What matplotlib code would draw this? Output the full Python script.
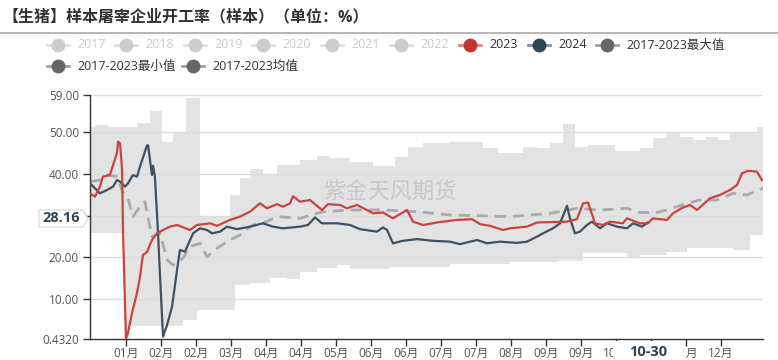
import numpy as np
import matplotlib
matplotlib.use("Agg")
import matplotlib.pyplot as plt
from matplotlib.patches import Polygon
from matplotlib.lines import Line2D

plt.rcParams['font.family'] = ['Open Sans', 'Noto Sans CJK SC', 'DejaVu Sans']

# day-of-year based x values
max_x = [0, 2.7, 9.8, 25.5, 32.5, 39.0, 45.0, 52.1, 59.7, 75.9, 81.3, 86.8, 93.8, 101.4,
         113.9, 123.1, 130.2, 141.0, 153.5, 165.4, 172.5, 180.6, 195.2, 213.1, 221.3,
         234.8, 242.4, 249.5, 256.5, 263.0, 270.1, 284.7, 298.3, 305.3, 312.9, 320.0,
         327.0, 333.5, 340.6, 347.1, 361.7]
max_y = [51.4, 51.8, 51.4, 52.2, 55.2, 47.8, 49.9, 58.3, 29.8, 35.0, 39.1, 41.2, 40.0, 42.2,
         43.4, 44.4, 43.8, 42.8, 42.0, 44.2, 46.6, 47.4, 47.6, 46.2, 45.1,
         46.6, 46.2, 47.4, 52.0, 46.6, 47.0, 45.6, 46.2, 48.6, 50.0, 49.0,
         48.1, 48.8, 48.2, 50.0, 51.2]

min_x = [0, 19.0, 21.0, 50.4, 58.0, 78.6, 86.8, 97.6, 106.8, 113.9, 123.1, 134.0, 141.0,
         162.7, 195.2, 227.8, 238.6, 253.3, 267.4, 291.2, 298.3, 312.9, 323.8, 348.7, 357.9]
min_y = [25.8, 1.0, 3.5, 5.0, 7.4, 13.4, 13.8, 15.0, 14.8, 16.6, 17.4, 18.2, 17.2,
         17.8, 18.4, 18.8, 19.0, 19.2, 21.0, 20.2, 20.6, 21.4, 22.2, 21.8, 25.4]

mean_x = [0, 5.4, 9.2, 14.6, 17.9, 20.6, 23.3, 27.1, 29.8, 33.6, 38.0, 41.8, 45.0, 50.4,
          54.2, 59.7, 63.4, 68.9, 75.9, 81.3, 88.4, 93.8, 101.4, 113.9, 126.4, 141.0,
          158.9, 177.3, 195.2, 213.1, 227.8, 249.5, 264.1, 276.6, 291.2, 298.3, 307.5,
          312.9, 323.8, 330.8, 340.0, 348.7, 356.3, 365.0]
mean_y = [38.2, 38.6, 39.8, 39.4, 35.5, 34.2, 29.8, 32.2, 33.4, 25.0, 25.8, 19.4, 18.2, 19.8,
          22.6, 23.4, 20.2, 22.2, 24.2, 25.4, 27.8, 28.2, 29.8, 29.4, 31.0, 31.4,
          31.4, 31.0, 30.2, 30.0, 29.8, 30.6, 31.8, 31.4, 31.8, 30.8, 30.8,
          31.4, 33.0, 33.8, 33.8, 35.4, 35.0, 36.6]

y2023_x = [0, 2.7, 5.4, 7.0, 10.8, 12.5, 14.6, 15.2, 16.3, 17.4, 17.9, 19.5, 20.6, 22.8,
           25.5, 27.1, 28.7, 30.9, 33.6, 36.3, 39.6, 43.4, 47.2, 54.2, 58.0, 65.1, 68.9,
           75.9, 81.3, 86.8, 92.2, 96.0, 101.4, 104.7, 108.5, 110.1, 113.9, 119.3, 125.8,
           129.1, 135.6, 139.4, 144.8, 150.2, 153.5, 158.9, 164.3, 171.9, 175.2, 180.6,
           188.2, 191.4, 199.0, 207.2, 211.5, 216.9, 224.0, 227.8, 237.0, 242.4, 258.7,
           264.1, 267.4, 270.1, 273.9, 278.2, 282.0, 289.0, 291.2, 298.3, 302.6, 305.3,
           312.9, 316.2, 321.6, 325.4, 329.2, 336.2, 341.6, 347.1, 350.9, 353.6, 356.8,
           361.7, 364.4]
y2023_y = [35.4, 34.6, 37.0, 39.4, 39.8, 42.2, 45.0, 47.8, 47.4, 41.0, 26.6, 0.5, 1.9, 6.7,
           11.5, 15.3, 20.6, 21.3, 24.2, 25.8, 26.6, 27.4, 27.8, 26.6, 27.8, 28.2, 27.6,
           29.0, 29.8, 31.0, 33.0, 31.8, 32.8, 32.2, 33.0, 34.7, 33.4, 33.8, 31.4,
           32.8, 32.6, 31.8, 32.6, 31.4, 30.6, 30.8, 29.4, 31.4, 28.6, 27.8,
           28.4, 28.6, 29.0, 29.2, 28.0, 27.6, 26.6, 27.0, 27.4, 28.4, 28.6,
           29.2, 33.0, 33.2, 28.2, 27.8, 28.6, 28.2, 29.4, 28.2, 28.2, 29.4,
           29.0, 30.6, 32.0, 32.6, 31.4, 34.2, 35.0, 36.2, 37.4, 40.2, 40.8,
           40.6, 38.6]

y2024_x = [0, 5.4, 9.2, 12.5, 14.6, 16.3, 19.0, 20.6, 23.3, 25.5, 27.1, 30.9, 31.5, 33.6,
           34.2, 35.2, 36.9, 38.0, 39.6, 41.8, 44.5, 47.2, 48.8, 51.5, 53.1, 55.9, 59.7,
           63.4, 66.2, 70.5, 74.3, 79.7, 86.8, 93.8, 99.2, 104.7, 113.9, 118.2, 122.0,
           125.8, 134.0, 141.0, 146.4, 155.6, 158.9, 161.1, 164.3, 169.7, 177.3, 186.0,
           195.2, 200.7, 209.9, 215.3, 222.3, 231.6, 237.0, 242.4, 245.7, 251.1, 254.9,
           258.7, 260.3, 263.0, 265.7, 269.5, 272.2, 276.6, 280.4, 285.8, 291.2, 294.5,
           299.3, 302.6]
y2024_y = [37.8, 35.4, 36.2, 37.0, 38.6, 38.2, 37.0, 37.8, 39.8, 39.4, 41.8, 46.9, 46.9, 39.8,
           42.0, 39.4, 25.8, 15.4, 1.0, 3.8, 8.2, 17.0, 21.8, 21.4, 23.0, 25.8, 27.0,
           26.6, 25.8, 26.2, 27.4, 26.8, 27.4, 28.2, 27.4, 27.0, 27.4, 27.8, 29.6,
           28.2, 28.2, 27.8, 26.8, 26.2, 27.2, 26.6, 23.4, 24.0, 24.4, 24.0,
           23.8, 23.2, 24.2, 23.4, 23.8, 23.5, 23.8, 25.0, 25.8, 27.0, 28.2,
           32.4, 29.4, 25.8, 26.2, 27.8, 28.6, 27.0, 28.2, 27.4, 27.0, 28.2,
           27.4, 28.4]

month_labels = ['01月', '02月', '02月', '03月', '04月', '04月', '05月', '06月', '06月',
                '07月', '07月', '08月', '09月', '09月', '10月', '10月', '11月', '12月']
y_ticks = [0.432, 10, 20, 30, 40, 50, 59]
y_tick_labels = ['0.4320', '10.00', '20.00', '30.00', '40.00', '50.00', '59.00']

legend_items = [('2017', '#cccccc', '#cccccc'), ('2018', '#cccccc', '#cccccc'),
                ('2019', '#cccccc', '#cccccc'), ('2020', '#cccccc', '#cccccc'),
                ('2021', '#cccccc', '#cccccc'), ('2022', '#cccccc', '#cccccc'),
                ('2023', '#c23531', '#333333'), ('2024', '#2f4554', '#333333'),
                ('2017-2023最大值', '#666666', '#333333')]
legend_items2 = [('2017-2023最小值', '#666666', '#333333'),
                 ('2017-2023均值', '#666666', '#333333')]


def steps(xs, ys, end):
    px, py = [], []
    for i in range(len(xs)):
        x1 = xs[i + 1] if i + 1 < len(xs) else end
        px += [xs[i], x1]
        py += [ys[i], ys[i]]
    return px, py


W, H = 778, 360
fig = plt.figure(figsize=(W / 100, H / 100), dpi=100)
ax = fig.add_axes([90 / W, 1 - 339 / H, (763 - 90) / W, (339 - 95) / H])

ux, uy = steps(max_x, max_y, 365)
lx, ly = steps(min_x, min_y, 365)
ax.fill(np.r_[ux, lx[::-1]], np.r_[uy, ly[::-1]], color='#e3e3e3', lw=0, zorder=1)

for v in y_ticks[1:]:
    ax.axhline(v, color='#dcdcdc', lw=1, zorder=1.5)

ax.plot(mean_x, mean_y, color='#aaaaaa', lw=2, dashes=(4, 2.5), zorder=2)
ax.plot(y2024_x, y2024_y, color='#3f505e', lw=1.6, zorder=3)
ax.plot(y2023_x, y2023_y, color='#c94341', lw=1.6, zorder=4)

ax.set_xlim(0, 365)
ax.set_ylim(0.432, 59)
ax.set_xticks(19.5 + 18.98 * np.arange(len(month_labels)))
ax.set_xticklabels(month_labels)
ax.set_yticks(y_ticks)
ax.set_yticklabels(y_tick_labels)
ax.tick_params(axis='both', colors='#333333', labelcolor='#555555', labelsize=8.5,
               length=5, width=1)
ax.tick_params(axis='x', pad=1)
ax.tick_params(axis='y', pad=3)
for s in ['top', 'right']:
    ax.spines[s].set_visible(False)
for s in ['left', 'bottom']:
    ax.spines[s].set_color('#333333')
    ax.spines[s].set_linewidth(1)

fig.text(0.501, 1 - 193 / H, '紫金天风期货', fontsize=16, color='#c8c8c8',
         ha='center', va='center', zorder=5)

# title and separator
fig.text(2 / W, 1 - 17 / H, '【生猪】样本屠宰企业开工率（样本）（单位：%）', fontsize=11.5,
         fontweight='bold', color='#333333', va='center', ha='left')
fig.add_artist(Line2D([0, 1], [1 - 33 / H, 1 - 33 / H], color='#aaaaaa', lw=1.2))

# legend
def legend_item(x0, yc, label, icol, tcol):
    yf = 1 - yc / H
    fig.add_artist(Line2D([x0 / W, (x0 + 22) / W], [yf, yf], color=icol, lw=2, alpha=0.6))
    fig.add_artist(Line2D([(x0 + 11) / W], [yf], marker='o', markersize=9, color=icol,
                          lw=0))
    fig.text((x0 + 30) / W, yf, label, fontsize=9, color=tcol, va='center', ha='left')

row1_x = [47, 115, 184, 252, 321, 390, 459, 528, 596]
for xx, (lab, ic, tc) in zip(row1_x, legend_items):
    legend_item(xx, 45, lab, ic, tc)
for xx, (lab, ic, tc) in zip([47, 182], legend_items2):
    legend_item(xx, 66, lab, ic, tc)

# axis pointer labels
fig.add_artist(Polygon([(39 / W, 1 - 210 / H), (83 / W, 1 - 210 / H), (88 / W, 1 - 218.5 / H),
                        (83 / W, 1 - 227 / H), (39 / W, 1 - 227 / H)], closed=True,
                       facecolor='white', edgecolor='#dddddd', lw=1, zorder=6))
fig.text(61 / W, 1 - 218.5 / H, '28.16', fontsize=10.5, fontweight='bold', color='#2f4554',
         ha='center', va='center', zorder=7)
fig.add_artist(Polygon([(613 / W, 1 - 341 / H), (683 / W, 1 - 341 / H), (683 / W, 0),
                        (613 / W, 0)], closed=True, facecolor='white', lw=0, zorder=6))
fig.text(648 / W, 1 - 352 / H, '10-30', fontsize=10.5, fontweight='bold', color='#2f4554',
         ha='center', va='center', zorder=7)

fig.savefig('out.png', dpi=100)
